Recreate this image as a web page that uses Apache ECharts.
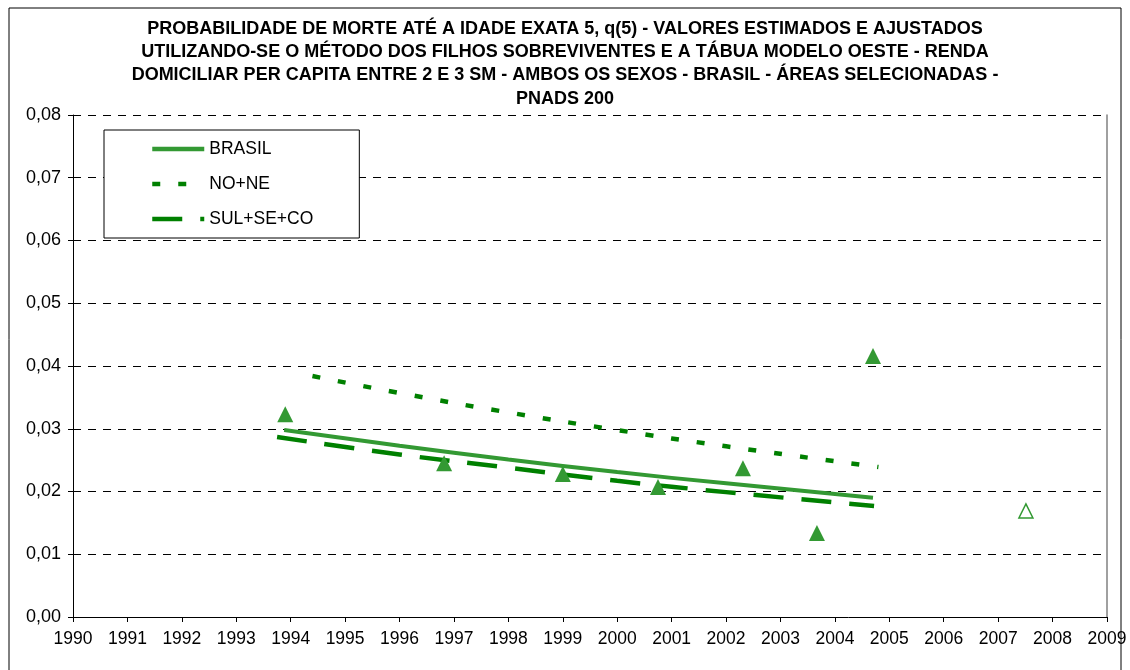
<!DOCTYPE html>
<html>
<head>
<meta charset="utf-8">
<script src="https://cdn.jsdelivr.net/npm/echarts@6/dist/echarts.min.js"></script>
<style>
  html, body { margin: 0; padding: 0; background: #fff; }
  #chart { width: 1130px; height: 670px; }
</style>
</head>
<body>
<div id="chart"></div>
<script>
// curvas ajustadas
var brasil = [[1993.88, 0.0298], [1996, 0.0273], [1998, 0.0251], [2000, 0.0231], [2002, 0.0213], [2004.7, 0.0190]];
var noNe = [[1994.4, 0.0384], [1996, 0.0357], [1998, 0.0326], [2000, 0.0298], [2002, 0.0272], [2004.8, 0.0239]];
var sulSeCo = [[1993.75, 0.0287], [1996, 0.0259], [1998, 0.0238], [2000, 0.0217], [2002, 0.0199], [2004.72, 0.0177]];

// valores estimados
var estimados = [[1993.9, 0.0323], [1996.82, 0.0245], [1999.0, 0.0228], [2000.75, 0.0207], [2002.31, 0.0237], [2003.67, 0.0134], [2004.7, 0.0416]];
var estimadoVazio = [[2007.51, 0.0169]];

var legendNames = ['BRASIL', 'NO+NE', 'SUL+SE+CO'];

var myChart = echarts.init(document.getElementById('chart'));
var fonte = '"Liberation Sans", Arial, sans-serif';

var option = {
    backgroundColor: '#fff',
    animation: false,
    title: {
        text: 'PROBABILIDADE DE MORTE ATÉ A IDADE EXATA 5, q(5) - VALORES ESTIMADOS E AJUSTADOS\nUTILIZANDO-SE O MÉTODO DOS FILHOS SOBREVIVENTES E A TÁBUA MODELO OESTE - RENDA\nDOMICILIAR PER CAPITA ENTRE 2 E 3 SM - AMBOS OS SEXOS - BRASIL - ÁREAS SELECIONADAS -\nPNADS 200',
        left: 'center',
        top: 17,
        padding: 0,
        textStyle: {
            fontFamily: fonte,
            fontWeight: 'bold',
            fontSize: 18,
            lineHeight: 23.3,
            color: '#000'
        }
    },
    graphic: [{
        type: 'rect',
        shape: { x: 9, y: 8, width: 1112, height: 700 },
        style: { fill: 'none', stroke: '#000', lineWidth: 1 },
        silent: true
    }],
    legend: {
        data: legendNames,
        orient: 'vertical',
        left: 104,
        top: 130,
        padding: [10, 46, 10, 46],
        itemGap: 17,
        itemWidth: 52,
        itemHeight: 14,
        itemTextGap: 4,
        backgroundColor: '#fff',
        borderColor: '#000',
        borderWidth: 1,
        borderRadius: 0,
        selectedMode: false,
        itemStyle: { opacity: 0 },
        lineStyle: { width: 4.5 },
        textStyle: { fontFamily: fonte, fontSize: 17.5, color: '#000', lineHeight: 18 }
    },
    grid: { left: 73, right: 23, top: 115, bottom: 53 },
    xAxis: {
        type: 'value',
        min: 1990,
        max: 2009,
        interval: 1,
        axisLine: { lineStyle: { color: '#000', width: 1 } },
        axisTick: { show: true, length: 5, lineStyle: { color: '#000' } },
        axisLabel: {
            margin: 13,
            fontFamily: fonte,
            fontSize: 17.5,
            color: '#000',
            formatter: function (v) { return String(v); }
        },
        splitLine: { show: false }
    },
    yAxis: [{
        type: 'value',
        min: 0,
        max: 0.08,
        interval: 0.01,
        axisLine: { show: true, lineStyle: { color: '#000', width: 1 } },
        axisTick: { show: true, length: 5, lineStyle: { color: '#000' } },
        axisLabel: {
            margin: 12,
            fontFamily: fonte,
            fontSize: 18,
            color: '#000',
            formatter: function (v) { return v.toFixed(2).replace('.', ','); }
        },
        splitLine: { show: true, lineStyle: { color: '#000', width: 1, type: [8, 7] } }
    }, {
        type: 'value',
        position: 'right',
        min: 0,
        max: 0.08,
        interval: 0.01,
        axisLine: { show: true, lineStyle: { color: '#808080', width: 1.5 } },
        axisTick: { show: false },
        axisLabel: { show: false },
        splitLine: { show: false }
    }],
    series: [
        {
            name: 'BRASIL',
            type: 'line',
            data: brasil,
            smooth: true,
            symbol: 'none',
            lineStyle: { color: '#339933', width: 4 },
            itemStyle: { color: '#339933' },
            z: 3
        },
        {
            name: 'NO+NE',
            type: 'line',
            data: noNe,
            smooth: true,
            symbol: 'none',
            lineStyle: { color: '#008000', width: 4.5, type: [8, 18], cap: 'butt' },
            itemStyle: { color: '#008000' },
            z: 3
        },
        {
            name: 'SUL+SE+CO',
            type: 'line',
            data: sulSeCo,
            smooth: true,
            symbol: 'none',
            lineStyle: { color: '#008000', width: 4.5, type: [30, 18], cap: 'butt' },
            itemStyle: { color: '#008000' },
            z: 3
        },
        {
            name: 'estimados',
            type: 'scatter',
            data: estimados,
            symbol: 'triangle',
            symbolSize: [16, 16],
            itemStyle: { color: '#339933', opacity: 1 },
            z: 4
        },
        {
            name: 'estimado2',
            type: 'scatter',
            data: estimadoVazio,
            symbol: 'triangle',
            symbolSize: [14, 14],
            itemStyle: { color: '#fff', borderColor: '#339933', borderWidth: 1.5, opacity: 1 },
            z: 4
        }
    ]
};

option && myChart.setOption(option);
</script>
</body>
</html>
